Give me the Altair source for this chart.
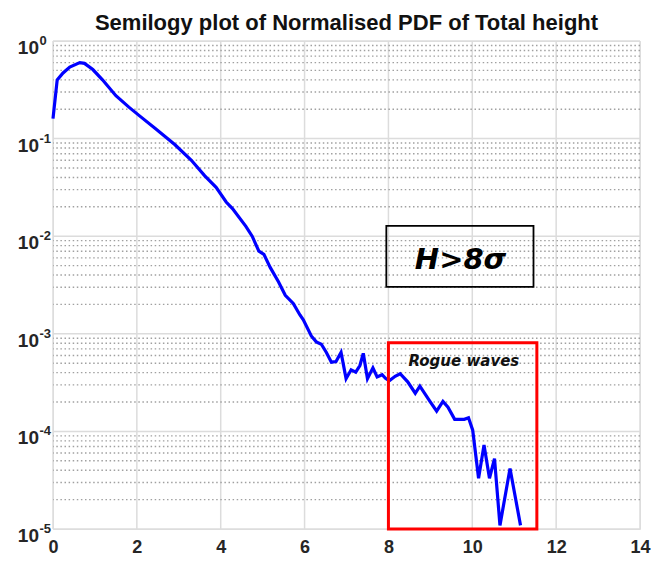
import altair as alt
import pandas as pd

# ---- data ----
height_x = [0.0, 0.1, 0.24, 0.4, 0.64, 0.75, 0.95, 1.18, 1.5, 1.81, 2.05, 2.44, 2.91, 3.3,
            3.62, 3.89, 4.13, 4.28, 4.6, 4.75, 4.91, 5.03, 5.18, 5.38, 5.54, 5.73, 5.89, 5.97,
            6.16, 6.28, 6.4, 6.52, 6.64, 6.75, 6.87, 6.99, 7.11, 7.22, 7.32, 7.4, 7.5, 7.63,
            7.73, 7.85, 7.93, 8.02, 8.16, 8.28, 8.46, 8.64, 8.75, 8.99, 9.15, 9.3, 9.42, 9.58,
            9.81, 9.91, 10.01, 10.15, 10.28, 10.41, 10.53, 10.66, 10.9, 11.15]
pdf_y = [0.16, 0.40, 0.47, 0.54, 0.60, 0.59, 0.51, 0.40, 0.275, 0.21, 0.173, 0.127, 0.0865, 0.06,
         0.0415, 0.0317, 0.0224, 0.0192, 0.0126, 0.0100, 0.00703, 0.00652, 0.00479, 0.00339,
         0.00248, 0.00205, 0.00156, 0.00139, 0.00095, 0.000826, 0.000781, 0.000644, 0.000512,
         0.000519, 0.000644, 0.000347, 0.000428, 0.000405, 0.000473, 0.00063, 0.000347,
         0.000448, 0.000361, 0.000381, 0.00035, 0.00033, 0.000367, 0.00039, 0.000322,
         0.000246, 0.000291, 0.000203, 0.000161, 0.000203, 0.000177, 0.000133, 0.000133,
         0.000138, 0.000103, 3.31e-5, 7.26e-5, 3.31e-5, 5.26e-5, 1.09e-5, 4.17e-5, 1.09e-5]

x_ticks = [0, 2, 4, 6, 8, 10, 12, 14]
y_decades = [1, 0.1, 0.01, 0.001, 0.0001, 0.00001]
y_exponents = ["0", "-1", "-2", "-3", "-4", "-5"]
y_minor = [m * d for d in [0.1, 0.01, 0.001, 0.0001, 0.00001] for m in range(2, 10)]

rogue_box = {"x": [8.0], "x2": [11.54], "y": [0.00081], "y2": [0.00001]}
rogue_label = {"x": [9.8], "y": [0.00053], "text": ["Rogue waves"]}
h_box = {"x": [7.95], "x2": [11.46], "y": [0.01276], "y2": [0.00303]}
h_label = {"x": [9.72], "y": [0.00567], "text": ["H>8σ"]}

TITLE = "Semilogy plot of Normalised PDF of Total height"

W, H = 587, 488
FONT = "Liberation Sans"
xs = alt.Scale(domain=[0, 14], nice=False)
ys = alt.Scale(type="log", domain=[1e-5, 1], nice=False)
x_axis = alt.Axis(values=x_ticks, grid=False, domain=False, ticks=False,
                  labelFont=FONT, labelFontSize=18, labelFontWeight="bold",
                  labelColor="#262626", labelPadding=9, labelFlush=False, title=None)
y_axis = alt.Axis(labels=False, grid=False, domain=False, ticks=False, title=None)


def X(field):
    return alt.X(field, type="quantitative", scale=xs, axis=x_axis)


def Y(field):
    return alt.Y(field, type="quantitative", scale=ys, axis=y_axis)


curve = pd.DataFrame({"x": height_x, "y": pdf_y})

xgrid = alt.Chart(pd.DataFrame({"x": x_ticks})).mark_rule(
    color="#dcdcdc", strokeWidth=1.5).encode(x=X("x"))

ygrid = alt.Chart(pd.DataFrame({"y": y_decades})).mark_rule(
    color="#dcdcdc", strokeWidth=1.5).encode(y=Y("y"))

yminor = alt.Chart(pd.DataFrame({"y": y_minor})).mark_rule(
    color="#a0a0a0", strokeWidth=1.4, strokeDash=[1.5, 2.6]).encode(y=Y("y"))

line = alt.Chart(curve).mark_line(color="#0000ff", strokeWidth=3.2).encode(
    x=X("x"), y=Y("y"))

rbox = alt.Chart(pd.DataFrame(rogue_box)).mark_rect(
    fillOpacity=0, stroke="#ff0000", strokeWidth=3).encode(
    x=X("x"), x2="x2:Q", y=Y("y"), y2="y2:Q")

rtext = alt.Chart(pd.DataFrame(rogue_label)).mark_text(
    font="DejaVu Sans", fontSize=15, fontWeight="bold", fontStyle="italic",
    color="#111111").encode(x=X("x"), y=Y("y"), text="text:N")

hbox = alt.Chart(pd.DataFrame(h_box)).mark_rect(
    fillOpacity=0, stroke="#000000", strokeWidth=1.8).encode(
    x=X("x"), x2="x2:Q", y=Y("y"), y2="y2:Q")

htext = alt.Chart(pd.DataFrame(h_label)).mark_text(
    font="DejaVu Sans", fontSize=29, fontWeight="bold", fontStyle="italic",
    color="#000000").encode(x=X("x"), y=Y("y"), text="text:N")

ylab_df = pd.DataFrame({"y": y_decades, "base": ["10"] * len(y_decades), "exp": y_exponents})
ybase = alt.Chart(ylab_df).mark_text(
    font=FONT, fontSize=19, fontWeight="bold", color="#262626", align="right",
    baseline="middle", dy=7).encode(x=alt.value(-14), y=Y("y"), text="base:N")
yexp = alt.Chart(ylab_df).mark_text(
    font=FONT, fontSize=13, fontWeight="bold", color="#262626", align="left",
    baseline="middle", dy=0).encode(x=alt.value(-13.5), y=Y("y"), text="exp:N")

chart = alt.layer(
    xgrid, ygrid, yminor, line, rbox, rtext, hbox, htext, ybase, yexp
).properties(
    width=W, height=H,
    title=alt.TitleParams(TITLE, font=FONT, fontSize=22, fontWeight="bold",
                          color="#111111", anchor="middle", offset=0),
    autosize=alt.AutoSizeParams(type="none"),
    padding={"left": 45, "top": 33, "right": 11, "bottom": 29},
).configure_view(
    stroke="#262626", strokeWidth=2
).configure(background="white")

chart.save("out.html", embed_options={"renderer": "svg", "actions": False})
